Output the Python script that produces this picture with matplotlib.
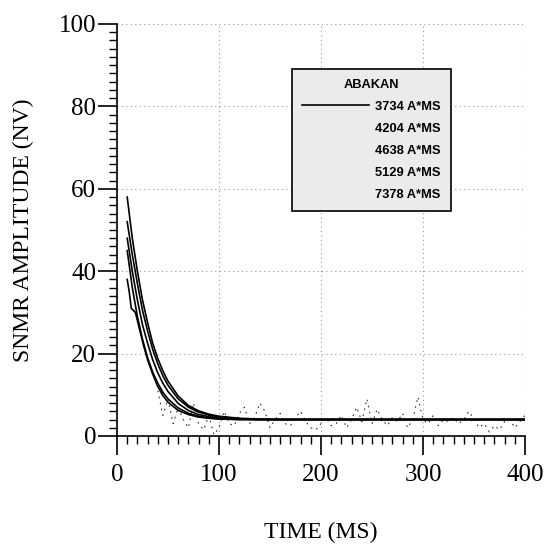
import matplotlib
matplotlib.use("Agg")
import matplotlib.pyplot as plt
from matplotlib.ticker import MultipleLocator

# ---- data ----
t_fit = [10, 15, 20, 25, 30, 35, 40, 45, 50, 60, 70, 80, 90, 100, 120, 140, 160, 200, 250, 300, 350, 400]
curve_3734 = [58, 48, 40, 33, 27.5, 22.5, 18.8, 15.8, 13.3, 9.7, 7.4, 6.1, 5.3, 4.8, 4.3, 4.1, 4.0, 4.0, 4.0, 4.0, 4.0, 4.0]
curve_4204 = [52, 44, 37, 30.5, 25.5, 21, 17.5, 14.6, 12.3, 9.0, 7.0, 5.8, 5.1, 4.6, 4.2, 4.0, 4.0, 4.0, 4.0, 4.0, 4.0, 4.0]
curve_4638 = [48, 40, 33, 27, 22.5, 18.5, 15.3, 12.8, 10.8, 7.9, 6.2, 5.2, 4.7, 4.4, 4.1, 4.0, 4.0, 4.0, 4.0, 4.0, 4.0, 4.0]
curve_5129 = [45, 36, 29, 23.5, 19, 15.5, 12.8, 10.6, 9.0, 6.8, 5.5, 4.8, 4.4, 4.2, 4.0, 4.0, 4.0, 4.0, 4.0, 4.0, 4.0, 4.0]
t_7378 = [10, 12, 14, 18, 22, 26, 30, 35, 40, 45, 50, 60, 70, 80, 90, 100, 120, 140, 160, 200, 250, 300, 350, 400]
curve_7378 = [38, 35, 31, 30, 26, 22, 18.5, 15, 12, 9.8, 8.2, 6.2, 5.2, 4.6, 4.3, 4.1, 4.0, 4.0, 4.0, 4.0, 4.0, 4.0, 4.0, 4.0]

t_raw = list(range(40, 405, 5))
raw = [11, 5, 9, 3, 7, 4, 2, 8, 3, 1.5, 5, 0.3, 2, 6, 3, 2.5, 5.5, 7, 3, 4.5,
       8, 6, 2, 4, 5.5, 3, 2.5, 4.5, 6, 3.5, 2, 1.5, 3, 4.5, 2.5, 3, 5, 2, 4, 7,
       3.5, 9, 3, 6.5, 4, 2.5, 4.5, 3.5, 5.5, 2, 4, 9.5, 4, 3, 5, 2.5, 4, 3.5, 4.5, 3,
       4, 6, 4, 2, 3, 1, 2.5, 1.5, 3.5, 4, 2, 3.5, 5]

labels = ["3734 A*MS", "4204 A*MS", "4638 A*MS", "5129 A*MS", "7378 A*MS"]
legend_title = "ABAKAN"

# ---- figure ----
fig = plt.figure(figsize=(5.51, 5.45), dpi=100)
ax = fig.add_axes([117/551, 1 - 436/545, 408/551, 412/545])

serif = ["Liberation Serif", "DejaVu Serif"]
narrow = ["Liberation Sans Narrow", "Liberation Sans", "DejaVu Sans"]

series = [(t_fit, curve_3734), (t_fit, curve_4204), (t_fit, curve_4638),
          (t_fit, curve_5129), (t_7378, curve_7378)]
lines = []
for (tx, vy), lab in zip(series, labels):
    ln, = ax.plot(tx, vy, color="black", lw=1.2, label=lab)
    lines.append(ln)

ax.plot(t_raw, raw, color="black", lw=0.8, ls=(0, (1.5, 4)), alpha=0.8)

ax.set_xlim(0, 400)
ax.set_ylim(0, 100)
ax.xaxis.set_major_locator(MultipleLocator(100))
ax.xaxis.set_minor_locator(MultipleLocator(10))
ax.yaxis.set_major_locator(MultipleLocator(20))
ax.yaxis.set_minor_locator(MultipleLocator(2))

for s in ["top", "right"]:
    ax.spines[s].set_visible(False)
for s in ["left", "bottom"]:
    ax.spines[s].set_linewidth(1.2)

ax.tick_params(which="major", direction="out", length=14, width=1.2, pad=1)
ax.tick_params(which="minor", direction="out", length=6, width=1.0)
ax.grid(True, which="major", color="#999999", ls=(0, (1, 3)), lw=0.8)
ax.get_xgridlines()[-1].set_visible(False)

for lab in ax.get_xticklabels() + ax.get_yticklabels():
    lab.set_fontfamily(serif)
    lab.set_fontsize(18)
ax.tick_params(axis="x", pad=6)

ax.set_xlabel("TIME (MS)", fontfamily=serif, fontsize=17, labelpad=26)
ax.set_ylabel("SNMR AMPLITUDE (NV)", fontfamily=serif, fontsize=17, labelpad=18)

leg = ax.legend(handles=lines, labels=labels, title=legend_title,
                loc="upper left", bbox_to_anchor=((292-117)/408, (436-69)/412),
                borderaxespad=0,
                prop={"family": narrow, "weight": "bold", "size": 9.3},
                title_fontproperties={"family": narrow, "weight": "bold", "size": 9.3},
                handlelength=5.2, handletextpad=0.5, labelspacing=0.78,
                borderpad=0.75, fancybox=False, framealpha=1,
                facecolor="#ebebeb", edgecolor="black")
leg.get_frame().set_linewidth(1.2)
for i, hl in enumerate(leg.get_lines()):
    if i > 0:
        hl.set_visible(False)

fig.savefig("out.png", dpi=100)
